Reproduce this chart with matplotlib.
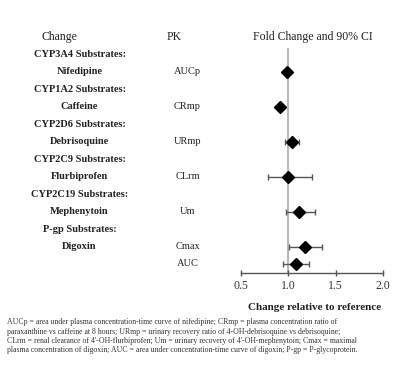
import matplotlib
matplotlib.use("Agg")
import matplotlib.pyplot as plt
import matplotlib.transforms as mtransforms

plt.rcParams['font.family'] = ['Liberation Serif', 'DejaVu Serif']

# ---- data ----
row_labels = ["CYP3A4 Substrates:", "Nifedipine", "CYP1A2 Substrates:", "Caffeine",
              "CYP2D6 Substrates:", "Debrisoquine", "CYP2C9 Substrates:", "Flurbiprofen",
              "CYP2C19 Substrates:", "Mephenytoin", "P-gp Substrates:", "Digoxin", ""]
pk_labels = ["", "AUCp", "", "CRmp", "", "URmp", "", "CLrm", "", "Um", "", "Cmax", "AUC"]
fold = [None, 0.99, None, 0.91, None, 1.04, None, 1.00, None, 1.11, None, 1.18, 1.08]
ci_low = [None, 0.96, None, 0.88, None, 0.97, None, 0.79, None, 0.975, None, 1.01, 0.94]
ci_high = [None, 1.02, None, 0.94, None, 1.115, None, 1.25, None, 1.28, None, 1.36, 1.22]
xticks = [0.5, 1.0, 1.5, 2.0]
xtick_labels = ["0.5", "1.0", "1.5", "2.0"]
footnote = ("AUCp = area under plasma concentration-time curve of nifedipine; CRmp = plasma concentration ratio of\n"
            "paraxanthine vs caffeine at 8 hours; URmp = urinary recovery ratio of 4-OH-debrisoquine vs debrisoquine;\n"
            "CLrm = renal clearance of 4'-OH-flurbiprofen; Um = urinary recovery of 4'-OH-mephenytoin; Cmax = maximal\n"
            "plasma concentration of digoxin; AUC = area under concentration-time curve of digoxin; P-gp = P-glycoprotein.")

W, H = 400, 365
fig = plt.figure(figsize=(W / 100, H / 100), dpi=100)
ax = fig.add_axes([241 / W, (H - 272.7) / H, 142 / W, 244.4 / H])
ax.set_xlim(0.5, 2.0)
ax.set_ylim(13.5, -0.5)
for s in ["top", "right", "left"]:
    ax.spines[s].set_visible(False)
ax.spines["bottom"].set_color("#555555")
ax.spines["bottom"].set_linewidth(1.0)
ax.set_yticks([])
ax.set_xticks(xticks)
ax.set_xticklabels(xtick_labels, fontsize=8.5, color="#333333")
ax.tick_params(axis="x", direction="inout", length=5, width=1.0, color="#555555", pad=3)

ax.vlines(1.0, 0.6, 13.5, color="#aaaaaa", lw=1.2, zorder=1)

ys = list(range(1, len(row_labels) + 1))
for y, f, lo, hi in zip(ys, fold, ci_low, ci_high):
    if f is None:
        continue
    ax.errorbar([f], [y], xerr=[[f - lo], [hi - f]], fmt="D", color="black",
                ms=6.5, ecolor="#555555", elinewidth=1.0, capsize=2.5, capthick=1.0, zorder=3)

tr = mtransforms.blended_transform_factory(fig.transFigure, ax.transData)
tc = "#222222"
ax.text(42 / W, 0, "Change", transform=tr, ha="left", va="center", fontsize=8.5, color=tc)
ax.text(174 / W, 0, "PK", transform=tr, ha="center", va="center", fontsize=8.5, color=tc)
ax.text(313 / W, 0, "Fold Change and 90% CI", transform=tr, ha="center", va="center",
        fontsize=8.5, color=tc)
for y, lab, pk in zip(ys, row_labels, pk_labels):
    if lab:
        ax.text(79.5 / W, y, lab, transform=tr, ha="center", va="center", fontsize=7.5,
                fontweight="bold", color=tc)
    if pk:
        ax.text(187.5 / W, y, pk, transform=tr, ha="center", va="center", fontsize=7.5, color=tc)

fig.text(315 / W, 1 - 307 / H, "Change relative to reference", ha="center", va="center",
         fontsize=8, fontweight="bold", color=tc)
fig.text(7 / W, 1 - 318 / H, footnote, ha="left", va="top", fontsize=5.6, color="#333333",
         linespacing=1.25)

fig.savefig("out.png", dpi=100)
